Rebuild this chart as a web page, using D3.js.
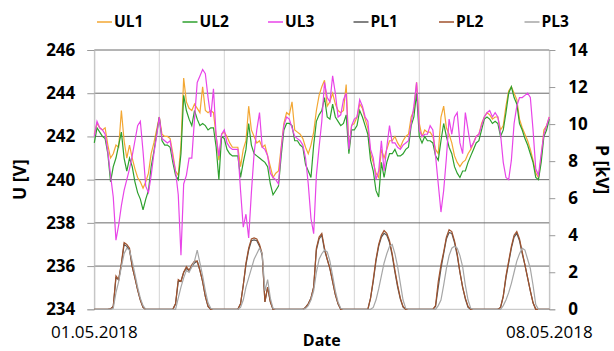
<!DOCTYPE html>
<html>
<head>
<meta charset="utf-8">
<script src="https://cdn.jsdelivr.net/npm/d3@7"></script>
<style>
  body { margin: 0; background: #fff; }
  text { font-family: "Open Sans", sans-serif; fill: #000; }
</style>
</head>
<body>
<svg id="chart" width="614" height="351"></svg>
<script>
// hourly samples, 01.05.2018 00:00 .. 08.05.2018 00:00 (169 points)
const startDate = new Date(2018, 4, 1);
const endDate = new Date(2018, 4, 8);
const dateLabels = ['01.05.2018', '08.05.2018'];
const uTicks = [234, 236, 238, 240, 242, 244, 246];
const pTicks = [0, 2, 4, 6, 8, 10, 12, 14];
const seriesNames = ['UL1', 'UL2', 'UL3', 'PL1', 'PL2', 'PL3'];

const ul1 = [
  242.1, 242.6, 242.4, 242.3, 242.4, 241.6, 241.0, 241.2, 241.6, 241.5, 243.2, 241.8, 241.0, 241.6, 241.0, 240.5, 240.1, 239.9, 239.6, 239.9, 240.3, 241.2, 241.7, 242.3,
  242.9, 242.1, 242.0, 242.0, 241.9, 241.2, 240.4, 240.2, 241.6, 244.7, 243.6, 243.3, 243.2, 243.5, 243.3, 243.1, 244.3, 243.2, 243.1, 243.2, 243.1, 242.0, 240.9, 242.1,
  242.2, 242.0, 241.7, 241.5, 241.5, 241.5, 240.6, 241.4, 241.8, 243.4, 242.3, 242.0, 241.7, 241.8, 241.5, 241.6, 241.1, 240.6, 240.1, 240.3, 240.4, 241.5, 242.6, 243.1,
  243.0, 243.6, 242.3, 242.2, 242.1, 241.9, 241.5, 241.2, 241.6, 242.2, 243.2, 243.9, 244.3, 244.6, 243.4, 243.6, 244.0, 243.5, 243.2, 243.1, 243.2, 244.4, 241.4, 242.5,
  242.6, 242.9, 243.5, 243.3, 242.8, 242.4, 241.2, 240.8, 240.3, 240.1, 241.4, 241.0, 241.4, 241.8, 241.8, 242.0, 241.7, 241.5, 241.8, 242.0, 242.1, 242.9, 243.2, 244.5,
  242.6, 242.0, 242.3, 242.2, 242.2, 242.0, 241.4, 241.2, 242.9, 243.4, 242.4, 242.1, 241.7, 241.1, 240.8, 240.6, 240.8, 240.9, 241.2, 241.4, 241.7, 242.0, 242.1, 242.6,
  242.9, 243.1, 243.0, 242.8, 242.9, 242.9, 242.3, 242.5, 243.4, 244.1, 244.3, 244.0, 243.7, 242.8, 242.4, 242.1, 241.8, 241.4, 240.9, 240.3, 240.1, 241.0, 242.3, 242.5,
  242.9
];
const ul2 = [
  241.7, 242.4, 242.2, 242.0, 241.9, 241.2, 239.9, 240.6, 241.0, 241.6, 242.2, 241.0, 240.4, 241.0, 240.6, 239.9, 239.4, 239.1, 238.6, 239.1, 239.5, 240.6, 241.3, 242.1,
  242.9, 241.8, 241.6, 241.6, 241.5, 240.8, 240.2, 240.0, 241.2, 243.9, 243.2, 242.8, 242.5, 243.2, 242.8, 242.5, 242.6, 242.5, 242.3, 242.4, 242.4, 241.5, 240.0, 242.0,
  241.9, 241.4, 241.2, 241.1, 241.1, 241.1, 240.1, 240.8, 241.4, 242.6, 241.6, 241.2, 241.1, 241.0, 240.9, 240.8, 240.6, 239.8, 239.3, 239.5, 239.7, 241.1, 242.3, 242.6,
  242.6, 242.5, 241.8, 241.8, 241.6, 241.5, 240.7, 240.4, 240.1, 241.6, 242.7, 243.0, 243.2, 243.8, 242.9, 242.8, 243.5, 242.9, 242.7, 242.5, 242.6, 243.0, 241.2, 242.3,
  242.3, 242.5, 243.2, 242.9, 242.5, 242.1, 240.9, 240.4, 239.5, 239.2, 240.8, 240.1, 240.8, 241.2, 241.2, 241.4, 241.1, 241.1, 241.2, 241.4, 241.5, 242.5, 242.9, 244.0,
  242.0, 241.7, 242.0, 241.8, 241.8, 241.7, 241.1, 240.9, 241.8, 242.6, 242.0, 241.5, 241.2, 240.6, 240.3, 240.1, 240.4, 240.4, 240.8, 241.1, 241.4, 241.7, 241.8, 242.3,
  242.8, 242.9, 242.8, 242.6, 242.7, 242.6, 242.0, 242.3, 243.1, 244.0, 244.3, 243.8, 243.5, 242.6, 242.3, 241.9, 241.6, 241.2, 240.8, 240.1, 240.0, 240.8, 242.0, 242.3,
  242.8
];
const ul3 = [
  242.0, 242.7, 242.4, 242.3, 242.1, 241.3, 240.2, 239.2, 237.2, 237.9, 238.8, 239.5, 240.0, 240.5, 241.1, 241.8, 242.5, 242.7, 241.3, 239.7, 239.4, 240.2, 241.2, 242.0,
  242.9, 241.9, 241.8, 241.7, 241.8, 241.0, 240.4, 239.3, 236.5, 239.8, 240.2, 241.0, 241.0, 242.8, 244.5, 244.8, 245.1, 244.9, 243.8, 242.9, 244.2, 242.0, 241.1, 242.1,
  242.3, 241.7, 241.5, 241.4, 241.4, 241.4, 239.5, 237.8, 238.4, 237.3, 239.4, 241.2, 242.3, 243.1, 241.5, 241.4, 241.1, 240.3, 240.1, 240.0, 239.8, 241.4, 242.5, 242.9,
  242.8, 242.4, 242.0, 241.9, 241.8, 241.6, 241.0, 239.8, 238.2, 237.5, 240.2, 241.5, 242.7, 244.5, 243.8, 243.6, 244.8, 244.0, 242.9, 243.0, 243.7, 244.0, 241.4, 242.5,
  242.8, 242.9, 243.7, 243.4, 242.9, 242.7, 241.4, 241.0, 240.0, 240.4, 241.8, 240.4, 241.5, 242.5, 241.7, 241.7, 241.5, 241.4, 241.6, 241.7, 241.8, 242.6, 243.4, 244.5,
  242.3, 242.0, 242.1, 242.1, 242.5, 242.3, 241.1, 239.8, 238.5, 239.5, 241.0, 242.8, 242.1, 242.9, 243.1, 241.7, 241.2, 243.1, 242.3, 241.5, 241.7, 242.0, 242.1, 242.5,
  242.9, 243.1, 243.2, 242.9, 243.1, 242.9, 242.1, 240.8, 240.1, 240.0, 240.9, 242.6, 243.4, 243.8, 243.8, 243.9, 244.0, 243.8, 242.3, 240.5, 240.2, 241.2, 242.1, 242.5,
  242.9
];
const pl1 = [
  0, 0, 0, 0, 0, 0, 0.02, 0.15, 1.7, 1.6, 2.4, 3.5, 3.4, 3.2, 2.3, 1.7, 1.05, 0.5, 0.1, 0, 0, 0, 0, 0,
  0, 0, 0, 0, 0, 0, 0.3, 1.5, 1.5, 2.0, 2.2, 2.1, 2.3, 2.5, 2.6, 2.1, 1.5, 0.7, 0.15, 0, 0, 0, 0, 0,
  0, 0, 0, 0, 0, 0, 0.3, 1.3, 2.4, 3.2, 3.7, 3.75, 3.7, 3.4, 2.9, 0.4, 1.2, 0.4, 0, 0, 0, 0, 0, 0,
  0, 0, 0, 0, 0, 0, 0.1, 0.3, 0.6, 1.2, 3.2, 3.8, 4.0, 3.2, 2.7, 2.2, 1.5, 0.8, 0.3, 0, 0, 0, 0, 0,
  0, 0, 0, 0, 0, 0, 0.6, 1.5, 2.6, 3.4, 3.9, 4.1, 4.0, 3.6, 2.9, 2.0, 1.2, 0.55, 0.12, 0, 0, 0, 0, 0,
  0, 0, 0, 0, 0, 0, 0.15, 1.2, 2.2, 3.0, 3.8, 4.15, 4.1, 3.6, 2.9, 2.0, 1.2, 0.55, 0.1, 0, 0, 0, 0, 0,
  0, 0, 0, 0, 0, 0, 0.1, 0.7, 1.7, 2.5, 3.3, 3.9, 4.1, 3.7, 3.0, 2.4, 1.7, 1.0, 0.35, 0, 0, 0, 0, 0,
  0
];
const pl2 = [
  0, 0, 0, 0, 0, 0, 0.02, 0.15, 1.8, 1.6, 2.5, 3.6, 3.5, 3.3, 2.3, 1.7, 1.05, 0.5, 0.1, 0, 0, 0, 0, 0,
  0, 0, 0, 0, 0, 0, 0.3, 1.6, 1.5, 2.0, 2.3, 2.1, 2.4, 2.6, 2.6, 2.1, 1.5, 0.7, 0.15, 0, 0, 0, 0, 0,
  0, 0, 0, 0, 0, 0, 0.3, 1.3, 2.5, 3.3, 3.8, 3.85, 3.8, 3.5, 3.0, 0.4, 1.2, 0.4, 0, 0, 0, 0, 0, 0,
  0, 0, 0, 0, 0, 0, 0.1, 0.3, 0.6, 1.2, 3.3, 3.9, 4.1, 3.3, 2.7, 2.2, 1.5, 0.8, 0.3, 0, 0, 0, 0, 0,
  0, 0, 0, 0, 0, 0, 0.6, 1.6, 2.7, 3.5, 4.0, 4.25, 4.1, 3.7, 3.0, 2.1, 1.3, 0.6, 0.15, 0, 0, 0, 0, 0,
  0, 0, 0, 0, 0, 0, 0.2, 1.5, 2.4, 3.1, 3.9, 4.3, 4.2, 3.7, 3.0, 2.0, 1.2, 0.6, 0.15, 0, 0, 0, 0, 0,
  0, 0, 0, 0, 0, 0, 0.1, 0.7, 1.8, 2.6, 3.4, 4.0, 4.2, 3.8, 3.1, 2.4, 1.7, 1.0, 0.35, 0, 0, 0, 0, 0,
  0
];
const pl3 = [
  0, 0, 0, 0, 0, 0, 0, 0.05, 0.9, 1.5, 2.3, 3.0, 3.3, 3.2, 2.6, 1.9, 1.2, 0.6, 0.2, 0, 0, 0, 0, 0,
  0, 0, 0, 0, 0, 0, 0, 0.6, 1.2, 1.7, 2.1, 2.0, 2.3, 2.6, 3.2, 2.5, 1.8, 1.0, 0.35, 0.05, 0, 0, 0, 0,
  0, 0, 0, 0, 0, 0, 0.1, 0.5, 1.2, 1.7, 2.2, 2.7, 3.0, 3.3, 3.0, 1.0, 1.6, 0.6, 0.05, 0, 0, 0, 0, 0,
  0, 0, 0, 0, 0, 0, 0.05, 0.2, 0.5, 1.0, 2.0, 2.7, 3.0, 3.2, 3.1, 2.6, 1.8, 1.0, 0.4, 0.05, 0, 0, 0, 0,
  0, 0, 0, 0, 0, 0, 0, 0.1, 0.5, 1.1, 1.8, 2.5, 3.0, 3.4, 3.5, 3.0, 2.3, 1.4, 0.5, 0.05, 0, 0, 0, 0,
  0, 0, 0, 0, 0, 0, 0, 0.2, 0.5, 1.3, 2.2, 2.9, 3.3, 3.4, 3.3, 2.9, 2.3, 1.3, 0.5, 0.05, 0, 0, 0, 0,
  0, 0, 0, 0, 0, 0, 0, 0.2, 0.5, 0.9, 1.4, 2.0, 2.6, 3.0, 3.3, 3.2, 2.7, 2.2, 1.3, 0.25, 0, 0, 0, 0,
  0
];

const colors = {
  UL1: '#f3a733',
  UL2: '#2ea02e',
  UL3: '#e845e8',
  PL1: '#595959',
  PL2: '#a0522d',
  PL3: '#a6a6a6',
};

const margin = { top: 50, right: 64.7, bottom: 41.7, left: 94.3 };
const W = 614, H = 351;
const width = W - margin.left - margin.right;
const height = H - margin.top - margin.bottom;

const svg = d3.select('#chart');
const g = svg.append('g').attr('transform', `translate(${margin.left},${margin.top})`);

const x = d3.scaleTime().domain([startDate, endDate]).range([0, width]);
const yU = d3.scaleLinear().domain([234, 246]).range([height, 0]);
const yP = d3.scaleLinear().domain([0, 14]).range([height, 0]);
const timeAt = (i) => new Date(startDate.getTime() + i * 3600 * 1000);

// vertical day gridlines
g.append('g')
  .selectAll('line')
  .data(d3.timeDay.range(startDate, d3.timeDay.offset(endDate, 1)))
  .join('line')
  .attr('x1', (d) => x(d))
  .attr('x2', (d) => x(d))
  .attr('y1', 0)
  .attr('y2', height)
  .attr('stroke', '#d4d4d4')
  .attr('stroke-width', 1);

// horizontal gridlines (left axis)
g.append('g')
  .selectAll('line')
  .data(uTicks.slice(1))
  .join('line')
  .attr('x1', 0)
  .attr('x2', width)
  .attr('y1', (d) => yU(d))
  .attr('y2', (d) => yU(d))
  .attr('stroke', '#6a6a6a')
  .attr('stroke-width', 1);

// left axis
const leftAxis = g.append('g').call(d3.axisLeft(yU).tickValues(uTicks).tickSize(7).tickPadding(12));
leftAxis.select('.domain').attr('stroke', '#bdbdbd');
leftAxis.selectAll('.tick line').attr('stroke', '#9a9a9a');
leftAxis.selectAll('.tick text')
  .style('font-family', '"Open Sans", sans-serif')
  .style('font-size', '17px')
  .style('font-weight', '700')
  .attr('fill', '#000');

// right axis
const rightAxis = g.append('g')
  .attr('transform', `translate(${width},0)`)
  .call(d3.axisRight(yP).tickValues(pTicks).tickSize(6).tickPadding(13));
rightAxis.select('.domain').attr('stroke', '#bdbdbd');
rightAxis.selectAll('.tick line').attr('stroke', '#9a9a9a');
rightAxis.selectAll('.tick text')
  .style('font-family', '"Open Sans", sans-serif')
  .style('font-size', '17px')
  .style('font-weight', '700')
  .attr('fill', '#000');

// bottom axis line
g.append('line')
  .attr('x1', 0).attr('x2', width)
  .attr('y1', height).attr('y2', height)
  .attr('stroke', '#bdbdbd');

// date labels
g.selectAll('.dateLabel')
  .data([startDate, endDate])
  .join('text')
  .attr('class', 'dateLabel')
  .attr('x', (d) => x(d))
  .attr('y', height + 29)
  .attr('text-anchor', 'middle')
  .style('font-size', '17px')
  .text((d, i) => dateLabels[i]);

// lines
const lineU = d3.line().x((d, i) => x(timeAt(i))).y((d) => yU(d));
const lineP = d3.line().x((d, i) => x(timeAt(i))).y((d) => yP(d));

const uSeries = [['UL1', ul1], ['UL2', ul2], ['UL3', ul3]];
const pSeries = [['PL1', pl1], ['PL2', pl2], ['PL3', pl3]];

g.append('g')
  .selectAll('path')
  .data(pSeries)
  .join('path')
  .attr('d', (d) => lineP(d[1]))
  .attr('fill', 'none')
  .attr('stroke', (d) => colors[d[0]])
  .attr('stroke-width', 1.2);

g.append('g')
  .selectAll('path')
  .data(uSeries)
  .join('path')
  .attr('d', (d) => lineU(d[1]))
  .attr('fill', 'none')
  .attr('stroke', (d) => colors[d[0]])
  .attr('stroke-width', 1.2);

// axis titles
svg.append('text')
  .attr('transform', `translate(26,${margin.top + height / 2}) rotate(-90)`)
  .attr('text-anchor', 'middle')
  .style('font-size', '17.5px')
  .style('font-weight', '700')
  .text('U [V]');

svg.append('text')
  .attr('transform', `translate(596,${margin.top + height / 2 - 10}) rotate(90)`)
  .attr('text-anchor', 'middle')
  .style('font-size', '17.5px')
  .style('font-weight', '700')
  .text('P [kV]');

svg.append('text')
  .attr('x', margin.left + width / 2)
  .attr('y', 346)
  .attr('text-anchor', 'middle')
  .style('font-size', '16px')
  .style('font-weight', '700')
  .text('Date');

// legend
const legend = svg.append('g').attr('transform', 'translate(97,22)');
const item = legend.selectAll('g')
  .data(seriesNames)
  .join('g')
  .attr('transform', (d, i) => `translate(${i * 85.5},0)`);
item.append('line')
  .attr('x1', 0).attr('x2', 15)
  .attr('stroke', (d) => colors[d])
  .attr('stroke-width', 1.5);
item.append('text')
  .attr('x', 17)
  .attr('dy', '0.35em')
  .style('font-size', '15.5px')
  .style('font-weight', '700')
  .text((d) => d);
</script>
</body>
</html>
